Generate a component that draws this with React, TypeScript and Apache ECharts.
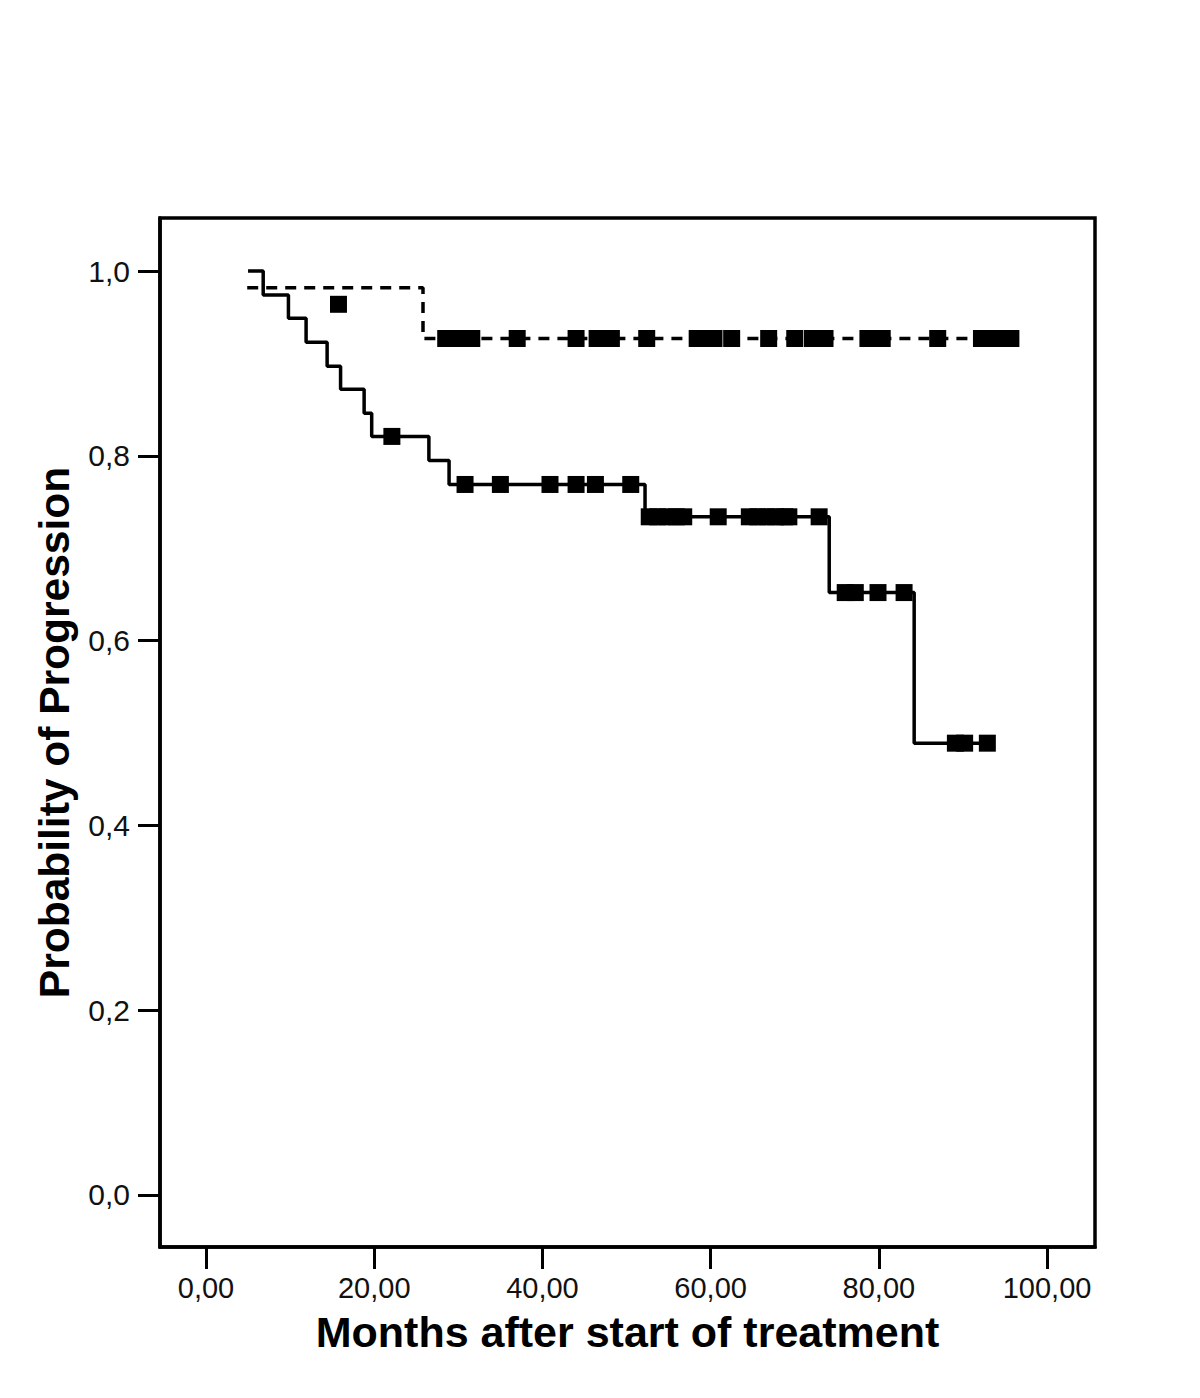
import React, { useEffect, useRef } from "react";
import * as echarts from "echarts";

// Group 1 (solid line): start, event times and survival after each event
const solidStart: [number, number] = [5.0, 1.0];
const solidEventTimes = [6.8, 9.8, 11.9, 14.4, 16.0, 18.8, 19.7, 26.5, 28.9, 52.2, 74.1, 84.2];
const solidEventLevels = [0.974, 0.949, 0.923, 0.897, 0.872, 0.846, 0.821, 0.795, 0.769, 0.734, 0.652, 0.489];
const solidCensorTimes = [
  22.1,
  30.8, 35.0, 40.9, 44.0, 46.3, 50.5,
  52.7, 53.7, 54.8, 55.9, 56.8, 60.9, 64.6, 65.6, 66.7, 67.7, 68.8, 69.3, 72.9,
  76.0, 77.2, 79.9, 83.0,
  89.1, 90.2, 92.9,
];

// Group 2 (dashed line)
const dashedStart: [number, number] = [4.9, 0.982];
const dashedEventTimes = [25.8];
const dashedEventLevels = [0.927];
const dashedCensorTimes = [
  28.5, 29.7, 30.9, 31.6, 37.0, 44.0, 46.5, 48.2, 52.4, 58.4, 59.4, 60.4, 62.5,
  66.9, 70.0, 72.1, 73.6, 78.7, 80.4, 87.0, 92.2, 93.5, 94.8, 95.7,
];

// Lone censor mark
const loneMarks: [number, number][] = [[15.75, 0.964]];

const xTicks = [0, 20, 40, 60, 80, 100];
const yTicks = [0, 0.2, 0.4, 0.6, 0.8, 1.0];

function levelAt(start: [number, number], times: number[], levels: number[], t: number) {
  let lvl = start[1];
  for (let i = 0; i < times.length; i++) if (times[i] <= t) lvl = levels[i];
  return lvl;
}

function stepPath(start: [number, number], times: number[], levels: number[], end: number) {
  const pts: [number, number][] = [[start[0], start[1]]];
  let lvl = start[1];
  for (let i = 0; i < times.length; i++) {
    pts.push([times[i], lvl]);
    pts.push([times[i], levels[i]]);
    lvl = levels[i];
  }
  pts.push([end, lvl]);
  return pts;
}

export default function App() {
  const ref = useRef<HTMLDivElement>(null);
  useEffect(() => {
    if (!ref.current) return;
    const chart = echarts.init(ref.current, null, { renderer: "svg" });
    const font = "'Liberation Sans', Arial, sans-serif";
    const solidEnd = solidCensorTimes[solidCensorTimes.length - 1];
    const dashedEnd = dashedCensorTimes[dashedCensorTimes.length - 1];
    const solidLine = stepPath(solidStart, solidEventTimes, solidEventLevels, solidEnd);
    const dashedLine = stepPath(dashedStart, dashedEventTimes, dashedEventLevels, dashedEnd);
    const solidMarks = solidCensorTimes.map((t) => [t, levelAt(solidStart, solidEventTimes, solidEventLevels, t)]);
    const dashedMarks = dashedCensorTimes.map((t) => [t, levelAt(dashedStart, dashedEventTimes, dashedEventLevels, t)]);
    const markStyle = { color: "#000", opacity: 1 };

    chart.setOption({
      animation: false,
      backgroundColor: "#fff",
      grid: {
        left: 160,
        top: 218,
        width: 935,
        height: 1029,
        show: true,
        borderColor: "#000",
        borderWidth: 3.5,
        backgroundColor: "transparent",
      },
      xAxis: {
        type: "value",
        min: -5.47,
        max: 105.7,
        name: "Months after start of treatment",
        nameLocation: "middle",
        nameGap: 67,
        nameMoveOverlap: false,
        nameTextStyle: { fontFamily: font, fontWeight: "bold", fontSize: 43, lineHeight: 36, color: "#000" },
        splitLine: { show: false },
        axisLine: { show: true, onZero: false, lineStyle: { color: "#000", width: 3.5 } },
        axisTick: { show: true, length: 22, customValues: xTicks, lineStyle: { color: "#000", width: 3 } },
        axisLabel: {
          customValues: xTicks,
          margin: 29,
          fontFamily: font,
          fontSize: 29,
          lineHeight: 24,
          color: "#111",
          formatter: (v: number) => v.toFixed(2).replace(".", ","),
        },
      },
      yAxis: {
        type: "value",
        min: -0.0563,
        max: 1.0574,
        name: "Probability of Progression",
        nameLocation: "middle",
        nameGap: 84,
        nameMoveOverlap: false,
        nameTextStyle: { fontFamily: font, fontWeight: "bold", fontSize: 42.5, color: "#000" },
        splitLine: { show: false },
        axisLine: { show: true, onZero: false, lineStyle: { color: "#000", width: 3.5 } },
        axisTick: { show: true, length: 22, customValues: yTicks, lineStyle: { color: "#000", width: 3 } },
        axisLabel: {
          customValues: yTicks,
          margin: 30,
          fontFamily: font,
          fontSize: 30,
          color: "#111",
          formatter: (v: number) => v.toFixed(1).replace(".", ","),
        },
      },
      series: [
        {
          type: "line",
          data: dashedLine,
          showSymbol: false,
          lineStyle: { color: "#000", width: 3.5, type: [11, 8] },
          z: 2,
        },
        {
          type: "line",
          data: solidLine,
          showSymbol: false,
          lineStyle: { color: "#000", width: 3.5 },
          z: 2,
        },
        {
          type: "scatter",
          data: dashedMarks,
          symbol: "rect",
          symbolSize: 17,
          itemStyle: markStyle,
          z: 3,
        },
        {
          type: "scatter",
          data: solidMarks,
          symbol: "rect",
          symbolSize: 17,
          itemStyle: markStyle,
          z: 3,
        },
        {
          type: "scatter",
          data: loneMarks,
          symbol: "rect",
          symbolSize: 17,
          itemStyle: markStyle,
          z: 3,
        },
      ],
    });
    return () => chart.dispose();
  }, []);
  return (
    <div
      ref={ref}
      style={{ position: "fixed", left: 0, top: 0, width: 1200, height: 1398, background: "#fff" }}
    />
  );
}
